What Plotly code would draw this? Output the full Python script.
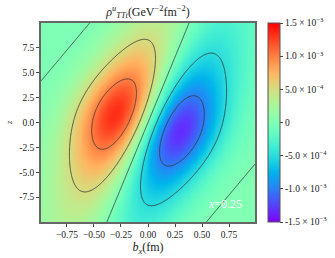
import numpy as np
import plotly.graph_objects as go

# ---- data description ----
bx_range = [-0.99, 0.99]
z_range = [-10.0, 10.0]
peak_value = 1.33e-3            # value at the red/blue extremum
lobe_angle_deg = 72.0          # tilt of the lobes (in bx, z/10 plane)
width_long = 0.675             # Lorentzian half-width along lobe
sigma_short = 0.35             # Gaussian width across lobe
middle_zero_slope = 0.38       # middle zero line: bx = 0.38 * z/10
outer_zero_slope = 0.772       # outer zero lines: bx - 0.772 z/10 = +-offset
outer_zero_offset = 1.312
contour_levels = [-1e-3, -5e-4, 0.0, 5e-4, 1e-3]
cbar_vals = [-1.5e-3, -1.0e-3, -5.0e-4, 0.0, 5.0e-4, 1.0e-3, 1.5e-3]
cbar_text = ["-1.5 × 10<sup>−3</sup>", "-1.0 × 10<sup>−3</sup>", "-5.0 × 10<sup>−4</sup>", "0",
             "5.0 × 10<sup>−4</sup>", "1.0 × 10<sup>−3</sup>", "1.5 × 10<sup>−3</sup>"]
x_ticks = [-0.75, -0.5, -0.25, 0.0, 0.25, 0.5, 0.75]
x_ticktext = ["−0.75", "−0.50", "−0.25", "0.00", "0.25", "0.50", "0.75"]
y_ticks = [-7.5, -5.0, -2.5, 0.0, 2.5, 5.0, 7.5]
y_ticktext = ["-7.5", "-5.0", "-2.5", "0.0", "2.5", "5.0", "7.5"]

# ---- field ----
bx = np.linspace(bx_range[0], bx_range[1], 241)
z = np.linspace(z_range[0], z_range[1], 241)
BX, Z = np.meshgrid(bx, z)
Y = Z / 10.0
th = np.deg2rad(lobe_angle_deg)
p = np.cos(th) * BX + np.sin(th) * Y
q = -np.sin(th) * BX + np.cos(th) * Y
u = BX - middle_zero_slope * Y
w = BX - outer_zero_slope * Y
F = (-u * (1 - (w / outer_zero_offset) ** 2)
     * np.exp(-(q ** 2) / (2 * sigma_short ** 2)) / (1 + (p / width_long) ** 2))
F = F / np.abs(F).max() * peak_value

# matplotlib 'rainbow' colormap
def rainbow(t):
    r = min(max(abs(2 * t - 0.5), 0), 1)
    g = min(max(np.sin(np.pi * t), 0), 1)
    b = min(max(np.cos(np.pi * t / 2), 0), 1)
    return f"rgb({int(r*255)},{int(g*255)},{int(b*255)})"

cs = [[t, rainbow(t)] for t in np.linspace(0, 1, 41)]

font = "Liberation Serif"
fig = go.Figure()
fig.add_trace(go.Heatmap(
    x=bx, y=z, z=F, colorscale=cs, zmin=cbar_vals[0], zmax=cbar_vals[-1],
    colorbar=dict(x=1.061, xanchor="left", y=0.5, yanchor="middle", len=1.0,
                  xpad=0, ypad=0, thickness=12, outlinecolor="#555", outlinewidth=1,
                  tickvals=cbar_vals, ticktext=cbar_text, ticks="outside", ticklen=3,
                  tickfont=dict(family=font, size=9.5, color="#222")),
))
fig.add_trace(go.Contour(
    x=bx, y=z, z=F, showscale=False,
    contours=dict(start=contour_levels[0], end=contour_levels[-1],
                  size=contour_levels[1] - contour_levels[0], coloring="none"),
    line=dict(color="#333", width=0.8), hoverinfo="skip",
))
fig.add_annotation(x=0.71, y=-8.2, text="<i>x</i>=0.25", showarrow=False,
                   font=dict(family=font, size=12, color="white"))
fig.update_layout(
    width=335, height=258, margin=dict(l=41, r=80, t=23, b=36, autoexpand=False),
    paper_bgcolor="white", plot_bgcolor="white",
    font=dict(family=font, size=10, color="#222"),
    title=dict(text="<i>ρ</i><sup><i>u</i></sup><sub><i>TTt</i></sub>(GeV<sup>−2</sup>fm<sup>−2</sup>)",
               x=(148) / 335, xanchor="center", y=0.955, yanchor="middle",
               font=dict(family=font, size=12)),
    xaxis=dict(range=bx_range, tickvals=x_ticks, ticktext=x_ticktext, ticks="outside", ticklen=3,
               tickangle=0, tickfont=dict(size=9.5),
               showline=True, linecolor="#666", linewidth=1.5, mirror=True, showgrid=False, zeroline=False,
               title=dict(text="<i>b<sub>x</sub></i>(fm)", font=dict(family=font, size=12), standoff=2)),
    yaxis=dict(range=z_range, tickvals=y_ticks, ticktext=y_ticktext, ticks="outside", ticklen=3,
               tickfont=dict(size=9.5),
               showline=True, linecolor="#666", linewidth=1.5, mirror=True, showgrid=False, zeroline=False,
               title=dict(text="<i>z</i>", font=dict(family=font, size=8), standoff=6)),
)
fig.write_html("out.html", config={"displayModeBar": False},
               post_script="document.body.style.margin='0';")
